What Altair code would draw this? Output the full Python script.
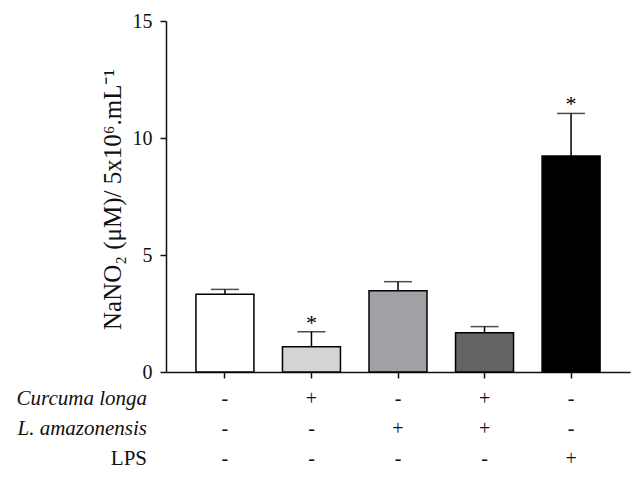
import altair as alt
import pandas as pd

groups = ["Control", "C. longa", "L. amazonensis", "C. longa + L. amazonensis", "LPS"]
means = [3.32, 1.08, 3.47, 1.68, 9.23]
upper = [3.53, 1.72, 3.86, 1.94, 11.05]
sig = ["", "*", "", "", "*"]
fills = ["#ffffff", "#d4d4d4", "#a1a1a5", "#646464", "#000000"]

row_labels = ["Curcuma longa", "L. amazonensis", "LPS"]
row_italic = [True, True, False]
signs_curcuma = ["-", "+", "-", "+", "-"]
signs_amazon = ["-", "-", "+", "+", "-"]
signs_lps = ["-", "-", "-", "-", "+"]
sign_rows = [signs_curcuma, signs_amazon, signs_lps]

FONT = "Liberation Serif"

df = pd.DataFrame({"group": groups, "mean": means, "upper": upper, "sig": sig})

x_enc = alt.X(
    "group:N",
    sort=groups,
    scale=alt.Scale(paddingInner=0.33, paddingOuter=0.346),
    axis=alt.Axis(
        labels=False, title=None, ticks=True, tickSize=6, tickWidth=1.5,
        tickColor="#111111", domainColor="#111111", domainWidth=1.5,
    ),
)

y_axis = alt.Axis(
    values=[0, 5, 10, 15], grid=False, tickSize=6, tickWidth=1.5,
    tickColor="#111111", domainColor="#111111", domainWidth=1.5,
    labelFont=FONT, labelFontSize=20, labelColor="#111111", labelPadding=8,
    title="NaNO₂ (μM)/ 5x10⁶.mL⁻¹", titleFont=FONT, titleFontSize=25,
    titleFontWeight="normal", titleColor="#111111", titleAngle=-90,
    titleX=-46, titleY=178, titleAlign="center", titleBaseline="alphabetic",
)

base = alt.Chart(df)

bars = base.mark_bar(stroke="black", strokeWidth=1.5).encode(
    x=x_enc,
    y=alt.Y("mean:Q", scale=alt.Scale(domain=[0, 15], nice=False), axis=y_axis),
    color=alt.Color("group:N", scale=alt.Scale(domain=groups, range=fills), legend=None),
)

err = base.mark_rule(color="black", strokeWidth=1.5).encode(
    x=alt.X("group:N", sort=groups), y="mean:Q", y2="upper:Q"
)
cap = base.mark_tick(color="black", thickness=1.5, size=28).encode(
    x=alt.X("group:N", sort=groups), y="upper:Q"
)
stars = base.mark_text(font=FONT, fontSize=22, baseline="middle", dy=-9, color="black").encode(
    x=alt.X("group:N", sort=groups), y="upper:Q", text="sig:N"
)

layers = [bars, err, cap, stars]

row_y = [378, 408, 438]
for i, (lab, ital, signs) in enumerate(zip(row_labels, row_italic, sign_rows)):
    sdf = pd.DataFrame({"group": groups, "sign": signs})
    layers.append(
        alt.Chart(sdf).mark_text(font=FONT, fontSize=20, baseline="middle", color="#111111").encode(
            x=alt.X("group:N", sort=groups), y=alt.value(row_y[i]), text="sign:N"
        )
    )
    ldf = pd.DataFrame({"label": [lab]})
    layers.append(
        alt.Chart(ldf).mark_text(
            font=FONT, fontSize=21, baseline="middle", align="right", color="#111111",
            fontStyle="italic" if ital else "normal",
        ).encode(x=alt.value(-19), y=alt.value(row_y[i]), text="label:N")
    )

chart = alt.layer(*layers).properties(
    width=464, height=351,
    autosize=alt.AutoSizeParams(type="none"),
    padding={"left": 158, "top": 13, "right": 4, "bottom": 104},
    background="white",
).configure_view(stroke=None)

chart.save("out.html", embed_options={"renderer": "svg", "actions": False})
